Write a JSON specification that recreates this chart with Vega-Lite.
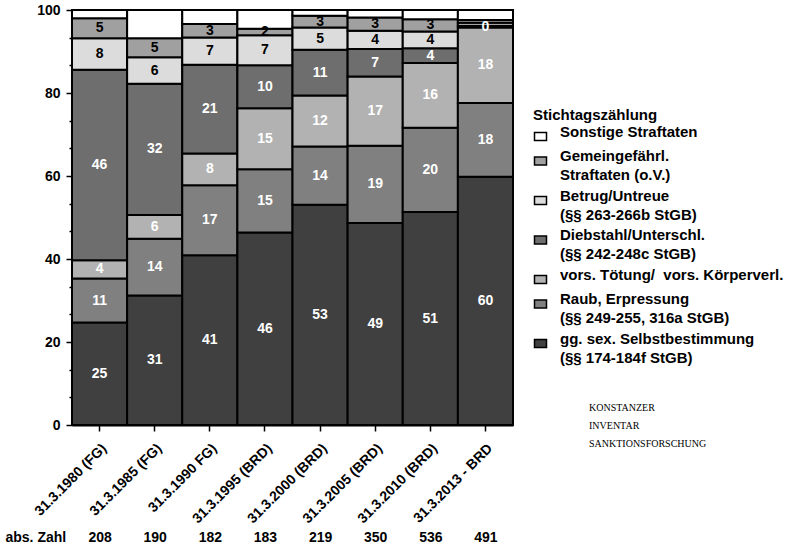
{
  "$schema": "https://vega.github.io/schema/vega-lite/v6.json",
  "width": 441,
  "height": 415,
  "autosize": "none",
  "padding": {"left": 72, "top": 10, "right": 274, "bottom": 125},
  "background": "white",
  "config": {
    "view": {"stroke": null},
    "font": "Liberation Sans",
    "axis": {"labelColor": "black", "domainColor": "black", "tickColor": "black", "titleColor": "black", "grid": false},
    "style": {"guide-label": {"lineHeight": 19}}
  },
  "title": {
    "text": ["KONSTANZER", "INVENTAR", "SANKTIONSFORSCHUNG"],
    "orient": "top",
    "anchor": "start",
    "frame": "group",
    "dx": 517,
    "dy": 454,
    "offset": 0,
    "font": "Liberation Serif",
    "fontSize": 10,
    "fontWeight": "normal",
    "color": "black",
    "lineHeight": 18,
    "baseline": "alphabetic"
  },
  "datasets": {
    "shares": [
      {"d": "31.3.1980 (FG)", "o": 1, "cat": "gg. sex. Selbstbestimmung|(§§ 174-184f StGB)", "v": 24.7, "lab": "25"},
      {"d": "31.3.1980 (FG)", "o": 2, "cat": "Raub, Erpressung|(§§ 249-255, 316a StGB)", "v": 10.6, "lab": "11"},
      {"d": "31.3.1980 (FG)", "o": 3, "cat": "vors. Tötung/  vors. Körperverl.", "v": 4.4, "lab": "4"},
      {"d": "31.3.1980 (FG)", "o": 4, "cat": "Diebstahl/Unterschl.|(§§ 242-248c StGB)", "v": 45.9, "lab": "46"},
      {"d": "31.3.1980 (FG)", "o": 5, "cat": "Betrug/Untreue|(§§ 263-266b StGB)", "v": 7.6, "lab": "8"},
      {"d": "31.3.1980 (FG)", "o": 6, "cat": "Gemeingefährl.|Straftaten (o.V.)", "v": 4.8, "lab": "5"},
      {"d": "31.3.1980 (FG)", "o": 7, "cat": "Sonstige Straftaten", "v": 2.0, "lab": ""},
      {"d": "31.3.1985 (FG)", "o": 1, "cat": "gg. sex. Selbstbestimmung|(§§ 174-184f StGB)", "v": 31.2, "lab": "31"},
      {"d": "31.3.1985 (FG)", "o": 2, "cat": "Raub, Erpressung|(§§ 249-255, 316a StGB)", "v": 13.7, "lab": "14"},
      {"d": "31.3.1985 (FG)", "o": 3, "cat": "vors. Tötung/  vors. Körperverl.", "v": 5.7, "lab": "6"},
      {"d": "31.3.1985 (FG)", "o": 4, "cat": "Diebstahl/Unterschl.|(§§ 242-248c StGB)", "v": 31.6, "lab": "32"},
      {"d": "31.3.1985 (FG)", "o": 5, "cat": "Betrug/Untreue|(§§ 263-266b StGB)", "v": 6.4, "lab": "6"},
      {"d": "31.3.1985 (FG)", "o": 6, "cat": "Gemeingefährl.|Straftaten (o.V.)", "v": 4.6, "lab": "5"},
      {"d": "31.3.1985 (FG)", "o": 7, "cat": "Sonstige Straftaten", "v": 6.8, "lab": ""},
      {"d": "31.3.1990 FG)", "o": 1, "cat": "gg. sex. Selbstbestimmung|(§§ 174-184f StGB)", "v": 40.9, "lab": "41"},
      {"d": "31.3.1990 FG)", "o": 2, "cat": "Raub, Erpressung|(§§ 249-255, 316a StGB)", "v": 16.9, "lab": "17"},
      {"d": "31.3.1990 FG)", "o": 3, "cat": "vors. Tötung/  vors. Körperverl.", "v": 7.6, "lab": "8"},
      {"d": "31.3.1990 FG)", "o": 4, "cat": "Diebstahl/Unterschl.|(§§ 242-248c StGB)", "v": 21.4, "lab": "21"},
      {"d": "31.3.1990 FG)", "o": 5, "cat": "Betrug/Untreue|(§§ 263-266b StGB)", "v": 6.6, "lab": "7"},
      {"d": "31.3.1990 FG)", "o": 6, "cat": "Gemeingefährl.|Straftaten (o.V.)", "v": 3.2, "lab": "3"},
      {"d": "31.3.1990 FG)", "o": 7, "cat": "Sonstige Straftaten", "v": 3.4, "lab": ""},
      {"d": "31.3.1995 (BRD)", "o": 1, "cat": "gg. sex. Selbstbestimmung|(§§ 174-184f StGB)", "v": 46.4, "lab": "46"},
      {"d": "31.3.1995 (BRD)", "o": 2, "cat": "Raub, Erpressung|(§§ 249-255, 316a StGB)", "v": 15.2, "lab": "15"},
      {"d": "31.3.1995 (BRD)", "o": 3, "cat": "vors. Tötung/  vors. Körperverl.", "v": 14.7, "lab": "15"},
      {"d": "31.3.1995 (BRD)", "o": 4, "cat": "Diebstahl/Unterschl.|(§§ 242-248c StGB)", "v": 10.4, "lab": "10"},
      {"d": "31.3.1995 (BRD)", "o": 5, "cat": "Betrug/Untreue|(§§ 263-266b StGB)", "v": 7.2, "lab": "7"},
      {"d": "31.3.1995 (BRD)", "o": 6, "cat": "Gemeingefährl.|Straftaten (o.V.)", "v": 1.6, "lab": "2"},
      {"d": "31.3.1995 (BRD)", "o": 7, "cat": "Sonstige Straftaten", "v": 4.5, "lab": ""},
      {"d": "31.3.2000 (BRD)", "o": 1, "cat": "gg. sex. Selbstbestimmung|(§§ 174-184f StGB)", "v": 53.1, "lab": "53"},
      {"d": "31.3.2000 (BRD)", "o": 2, "cat": "Raub, Erpressung|(§§ 249-255, 316a StGB)", "v": 14.0, "lab": "14"},
      {"d": "31.3.2000 (BRD)", "o": 3, "cat": "vors. Tötung/  vors. Körperverl.", "v": 12.3, "lab": "12"},
      {"d": "31.3.2000 (BRD)", "o": 4, "cat": "Diebstahl/Unterschl.|(§§ 242-248c StGB)", "v": 11.0, "lab": "11"},
      {"d": "31.3.2000 (BRD)", "o": 5, "cat": "Betrug/Untreue|(§§ 263-266b StGB)", "v": 5.4, "lab": "5"},
      {"d": "31.3.2000 (BRD)", "o": 6, "cat": "Gemeingefährl.|Straftaten (o.V.)", "v": 2.8, "lab": "3"},
      {"d": "31.3.2000 (BRD)", "o": 7, "cat": "Sonstige Straftaten", "v": 1.4, "lab": ""},
      {"d": "31.3.2005 (BRD)", "o": 1, "cat": "gg. sex. Selbstbestimmung|(§§ 174-184f StGB)", "v": 48.7, "lab": "49"},
      {"d": "31.3.2005 (BRD)", "o": 2, "cat": "Raub, Erpressung|(§§ 249-255, 316a StGB)", "v": 18.6, "lab": "19"},
      {"d": "31.3.2005 (BRD)", "o": 3, "cat": "vors. Tötung/  vors. Körperverl.", "v": 16.7, "lab": "17"},
      {"d": "31.3.2005 (BRD)", "o": 4, "cat": "Diebstahl/Unterschl.|(§§ 242-248c StGB)", "v": 6.6, "lab": "7"},
      {"d": "31.3.2005 (BRD)", "o": 5, "cat": "Betrug/Untreue|(§§ 263-266b StGB)", "v": 4.4, "lab": "4"},
      {"d": "31.3.2005 (BRD)", "o": 6, "cat": "Gemeingefährl.|Straftaten (o.V.)", "v": 3.2, "lab": "3"},
      {"d": "31.3.2005 (BRD)", "o": 7, "cat": "Sonstige Straftaten", "v": 1.8, "lab": ""},
      {"d": "31.3.2010 (BRD)", "o": 1, "cat": "gg. sex. Selbstbestimmung|(§§ 174-184f StGB)", "v": 51.3, "lab": "51"},
      {"d": "31.3.2010 (BRD)", "o": 2, "cat": "Raub, Erpressung|(§§ 249-255, 316a StGB)", "v": 20.3, "lab": "20"},
      {"d": "31.3.2010 (BRD)", "o": 3, "cat": "vors. Tötung/  vors. Körperverl.", "v": 15.6, "lab": "16"},
      {"d": "31.3.2010 (BRD)", "o": 4, "cat": "Diebstahl/Unterschl.|(§§ 242-248c StGB)", "v": 3.6, "lab": "4"},
      {"d": "31.3.2010 (BRD)", "o": 5, "cat": "Betrug/Untreue|(§§ 263-266b StGB)", "v": 4.0, "lab": "4"},
      {"d": "31.3.2010 (BRD)", "o": 6, "cat": "Gemeingefährl.|Straftaten (o.V.)", "v": 3.0, "lab": "3"},
      {"d": "31.3.2010 (BRD)", "o": 7, "cat": "Sonstige Straftaten", "v": 2.2, "lab": ""},
      {"d": "31.3.2013 - BRD", "o": 1, "cat": "gg. sex. Selbstbestimmung|(§§ 174-184f StGB)", "v": 59.8, "lab": "60"},
      {"d": "31.3.2013 - BRD", "o": 2, "cat": "Raub, Erpressung|(§§ 249-255, 316a StGB)", "v": 17.8, "lab": "18"},
      {"d": "31.3.2013 - BRD", "o": 3, "cat": "vors. Tötung/  vors. Körperverl.", "v": 18.2, "lab": "18"},
      {"d": "31.3.2013 - BRD", "o": 4, "cat": "Diebstahl/Unterschl.|(§§ 242-248c StGB)", "v": 0.4, "lab": "0"},
      {"d": "31.3.2013 - BRD", "o": 5, "cat": "Betrug/Untreue|(§§ 263-266b StGB)", "v": 0.7, "lab": ""},
      {"d": "31.3.2013 - BRD", "o": 6, "cat": "Gemeingefährl.|Straftaten (o.V.)", "v": 0.7, "lab": ""},
      {"d": "31.3.2013 - BRD", "o": 7, "cat": "Sonstige Straftaten", "v": 2.4, "lab": ""}
    ],
    "totals": [
      {"d": "31.3.1980 (FG)", "n": "208"},
      {"d": "31.3.1985 (FG)", "n": "190"},
      {"d": "31.3.1990 FG)", "n": "182"},
      {"d": "31.3.1995 (BRD)", "n": "183"},
      {"d": "31.3.2000 (BRD)", "n": "219"},
      {"d": "31.3.2005 (BRD)", "n": "350"},
      {"d": "31.3.2010 (BRD)", "n": "536"},
      {"d": "31.3.2013 - BRD", "n": "491"}
    ]
  },
  "layer": [
    {
      "data": {"name": "shares"},
      "transform": [
        {"stack": "v", "groupby": ["d"], "sort": [{"field": "o", "order": "ascending"}], "as": ["y0", "y1"]},
        {"calculate": "(datum.y0 + datum.y1) / 2", "as": "mid"}
      ],
      "layer": [
        {
          "mark": {"type": "bar", "stroke": "black", "strokeWidth": 2},
          "encoding": {
            "x": {
              "field": "d", "type": "nominal", "sort": null,
              "scale": {"paddingInner": 0, "paddingOuter": 0},
              "axis": {"title": null, "labelAngle": -45, "labelFontSize": 14, "labelFontWeight": "bold", "tickSize": 6, "tickWidth": 1.5, "domainWidth": 2, "labelPadding": 10}
            },
            "y": {
              "field": "y1", "type": "quantitative",
              "scale": {"domain": [0, 100], "nice": false},
              "axis": {
                "title": null,
                "values": [0, 6.667, 13.333, 20, 26.667, 33.333, 40, 46.667, 53.333, 60, 66.667, 73.333, 80, 86.667, 93.333, 100],
                "labelExpr": "datum.value % 20 === 0 ? datum.label : ''",
                "tickSize": {"condition": {"test": "datum.value % 20 === 0", "value": 6}, "value": 3},
                "labelOverlap": false, "labelBound": false, "labelFlush": false,
                "labelFontSize": 14, "labelFontWeight": "bold", "labelPadding": 6,
                "domainWidth": 2, "tickWidth": 1.5
              }
            },
            "y2": {"field": "y0"},
            "color": {
              "field": "cat", "type": "nominal",
              "scale": {
                "domain": ["Sonstige Straftaten", "Gemeingefährl.|Straftaten (o.V.)", "Betrug/Untreue|(§§ 263-266b StGB)", "Diebstahl/Unterschl.|(§§ 242-248c StGB)", "vors. Tötung/  vors. Körperverl.", "Raub, Erpressung|(§§ 249-255, 316a StGB)", "gg. sex. Selbstbestimmung|(§§ 174-184f StGB)"],
                "range": ["#ffffff", "#a0a0a0", "#dcdcdc", "#6e6e6e", "#b2b2b2", "#808080", "#404040"]
              },
              "legend": {
                "title": "Stichtagszählung",
                "orient": "none", "legendX": 461, "legendY": 98, "padding": 0,
                "titleFontSize": 15, "titleFontWeight": "bold", "titleColor": "black", "titlePadding": 6,
                "labelFontSize": 15, "labelFontWeight": "bold", "labelColor": "black", "labelLimit": 400,
                "labelExpr": "split(replace(datum.label, '/  ', '/\u00a0 '), '|')",
                "labelBaseline": "alphabetic",
                "symbolType": "M-1,-0.65H1V0.65H-1Z", "symbolSize": 144,
                "symbolStrokeColor": "black", "symbolStrokeWidth": 1.5, "symbolOpacity": 1,
                "labelOffset": 12, "rowPadding": 4.5,
                "encoding": {
                  "labels": {"update": {"dy": {"value": 4}}},
                  "title": {"update": {"dx": {"value": 8}}}
                }
              }
            }
          }
        },
        {
          "mark": {"type": "text", "fontSize": 14, "fontWeight": "bold", "font": "Liberation Sans"},
          "encoding": {
            "x": {"field": "d", "type": "nominal", "sort": null},
            "y": {
              "field": "mid", "type": "quantitative",
              "axis": {
                "title": null,
                "values": [0, 6.667, 13.333, 20, 26.667, 33.333, 40, 46.667, 53.333, 60, 66.667, 73.333, 80, 86.667, 93.333, 100],
                "labelExpr": "datum.value % 20 === 0 ? datum.label : ''",
                "tickSize": {"condition": {"test": "datum.value % 20 === 0", "value": 6}, "value": 3},
                "labelOverlap": false, "labelBound": false, "labelFlush": false,
                "labelFontSize": 14, "labelFontWeight": "bold", "labelPadding": 6,
                "domainWidth": 2, "tickWidth": 1.5
              }
            },
            "text": {"field": "lab"},
            "fill": {"condition": {"test": "datum.o === 5 || datum.o === 6", "value": "black"}, "value": "white"}
          }
        }
      ]
    },
    {
      "data": {"name": "totals"},
      "mark": {"type": "text", "opacity": 0},
      "encoding": {
        "x": {
          "field": "n", "type": "nominal", "sort": null,
          "scale": {"paddingInner": 0, "paddingOuter": 0},
          "axis": {
            "title": "abs. Zahl", "orient": "bottom", "offset": 112,
            "ticks": false, "tickSize": 0, "domain": false, "labelAngle": 0,
            "labelFontSize": 14, "labelFontWeight": "bold", "labelPadding": 0, "labelBaseline": "middle",
            "titleFontSize": 14, "titleFontWeight": "bold", "titleX": -67, "titleY": 0,
            "titleAlign": "left", "titleBaseline": "middle", "titleAngle": 0
          }
        },
        "text": {"field": "n"}
      }
    }
  ],
  "resolve": {"scale": {"x": "independent"}, "axis": {"x": "independent"}}
}
